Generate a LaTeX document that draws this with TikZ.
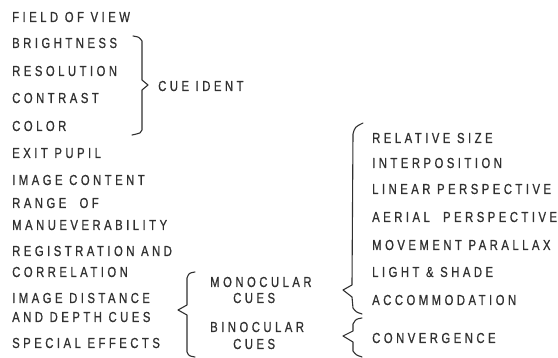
\documentclass[tikz,border=0pt]{standalone}
\usepackage{fontspec}
\newfontfamily\cuefont[FakeStretch=0.78,LetterSpace=24,FakeBold=0.8]{Liberation Sans}
\definecolor{ink}{HTML}{303030}

\begin{document}
\begin{tikzpicture}[x=1pt,y=-1pt,
    lbl/.style={anchor=base west,inner sep=0pt,text=ink,
      font=\cuefont\fontsize{14.5}{16}\selectfont},
    brace/.style={draw=ink,line width=1.1pt,line join=round,line cap=round}]
  \useasboundingbox (0,0) rectangle (558,358);
  % factors
  \foreach \T/\Y/\N in {FIELD OF VIEW/22/fov,BRIGHTNESS/48/bright,
      RESOLUTION/76/res,CONTRAST/103/contr,COLOR/131/color,
      EXIT PUPIL/158/pupil,IMAGE CONTENT/185/content,
      RANGE \ OF/208/range,MANUEVERABILITY/230/manuev,
      REGISTRATION AND/256/regis,CORRELATION/277/correl,
      IMAGE DISTANCE/303/dist,AND DEPTH CUES/322/depth,
      SPECIAL EFFECTS/348/special}
    \node[lbl] (\N) at (12,\Y) {\T};
  % cue identification
  \draw[brace] (133,36) .. controls (139,37) .. (142,41) -- (142,80)
    -- (148,85) -- (142,90) -- (142,130) .. controls (141,133) .. (132,135);
  \node[lbl] (ident) at (158,91) {CUE IDENT};
  % depth cues
  \draw[brace] (195,272) .. controls (189,273) .. (187,278) -- (187,305)
    -- (178,310) -- (187,315) -- (187,352) .. controls (189,356) .. (195,357);
  \node[lbl] (mono) at (210,287) {MONOCULAR};
  \node[lbl] (monocues) at (233,303) {CUES};
  \node[lbl] (bino) at (210,332) {BINOCULAR};
  \node[lbl] (binocues) at (233,349) {CUES};
  % monocular list
  \draw[brace] (363,123) .. controls (355,127) .. (353,134) -- (352,285)
    -- (343,290) -- (352,297) -- (353,308) .. controls (356,312) .. (362,314);
  \foreach \T/\Y/\N in {RELATIVE SIZE/143/relsize,INTERPOSITION/168/interp,
      LINEAR PERSPECTIVE/194/linear,AERIAL \ PERSPECTIVE/222/aerial,
      MOVEMENT PARALLAX/250/movement,LIGHT \& SHADE/277/light,
      ACCOMMODATION/305/accom}
    \node[lbl] (\N) at (372,\Y) {\T};
  % binocular list
  \draw[brace] (362,318) .. controls (356,319) .. (353,324) -- (353,331)
    -- (343,336) -- (353,342) -- (353,351) .. controls (356,355) .. (362,357);
  \node[lbl] (conv) at (372,343) {CONVERGENCE};
\end{tikzpicture}
\end{document}
